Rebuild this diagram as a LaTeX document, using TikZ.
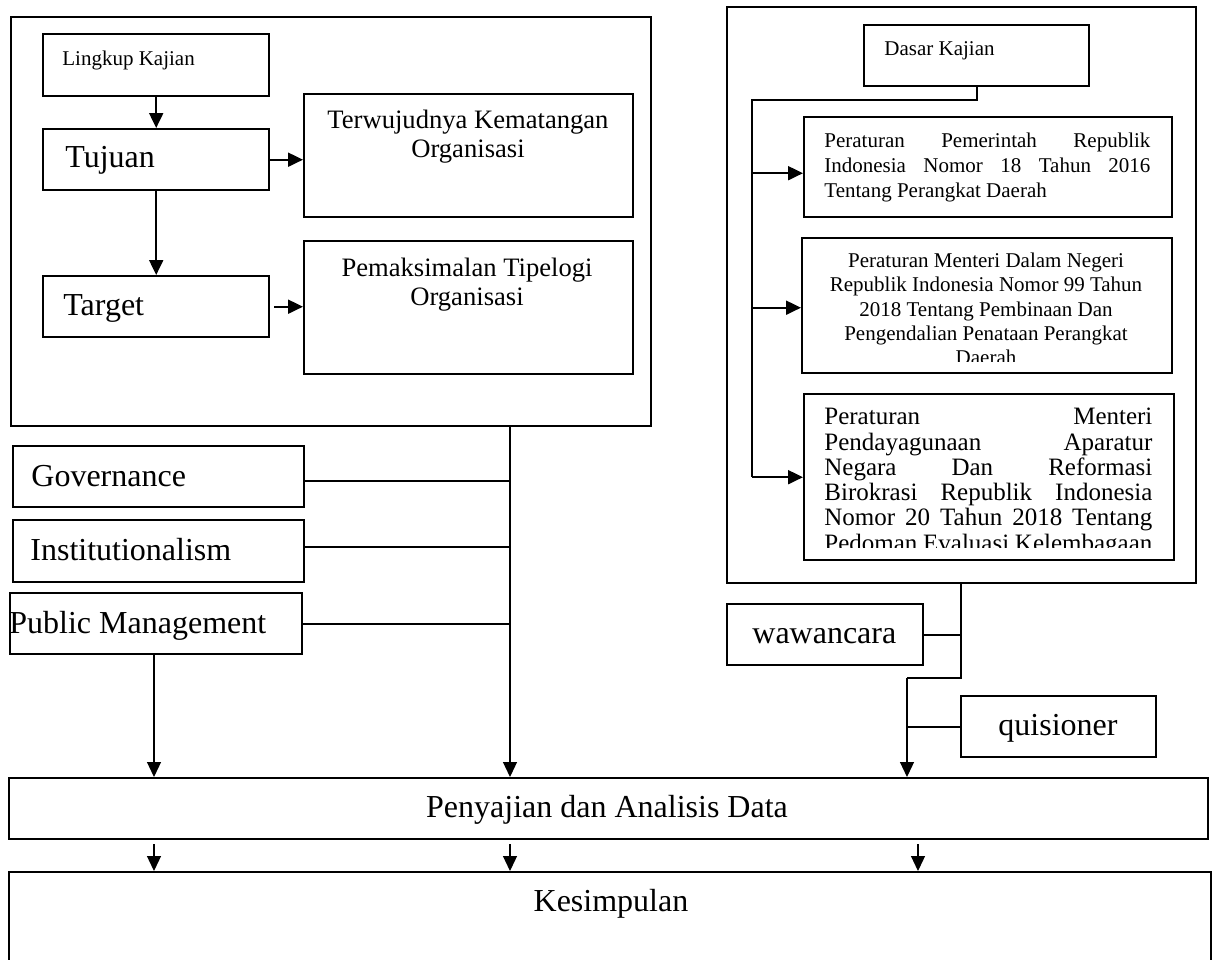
\documentclass[tikz,border=0pt]{standalone}
\usepackage{fontspec}
\setmainfont{Liberation Serif}
\usetikzlibrary{arrows.meta}
\tikzset{
  box/.style={draw, line width=1.2pt, rectangle, inner sep=0pt, anchor=north west},
  conn/.style={line width=1pt},
  thin/.style={line width=0.6pt},
  arr/.style={line width=1pt, -{Triangle[length=7.5pt,width=7pt]}},
  tarr/.style={line width=0.6pt, -{Triangle[length=7.5pt,width=7pt]}},
  big/.style={font=\fontsize{16}{19}\selectfont, inner sep=0pt},
  mid/.style={font=\fontsize{13.3}{16}\selectfont, inner sep=0pt},
  small/.style={font=\fontsize{10.5}{12.5}\selectfont, inner sep=0pt},
  boxc/.style={font=\fontsize{12.5}{15}\selectfont, inner sep=0pt},
}
\newcommand\mkbox[5]{\node[box,minimum width={(#4-#2)*0.5pt},minimum height={(#5-#3)*0.5pt}] (#1) at (#2,#3) {};}
\begin{document}
\begin{tikzpicture}[x=0.5pt,y=-0.5pt]
\fill[white] (0,0) rectangle (1214,959);
\useasboundingbox (0,0) rectangle (1214,959);
\clip (0,0) rectangle (1214,959);
% boxes
\mkbox{lbig}{10}{16}{650}{425}
\mkbox{ling}{42}{33}{268}{95}
\mkbox{tuj}{42}{128}{268}{189}
\mkbox{tgt}{42}{275}{268}{336}
\mkbox{terw}{303}{93}{632}{216}
\mkbox{pem}{303}{240}{632}{373}
\mkbox{rbig}{726}{6}{1195}{582}
\mkbox{dasar}{863}{24}{1088}{85}
\mkbox{bA}{803}{116}{1171}{216}
\mkbox{bB}{801}{237}{1171}{372}
\mkbox{bC}{803}{393}{1173}{559}
\mkbox{gov}{12}{445}{303}{506}
\mkbox{inst}{12}{519}{303}{581}
\mkbox{pm}{9}{592}{301}{653}
\mkbox{waw}{726}{603}{922}{664}
\mkbox{quis}{960}{695}{1155}{756}
\mkbox{pen}{8}{777}{1207}{838}
\mkbox{kes}{8}{871}{1210}{1000}
% texts left
\node[small, anchor=base west] (lingt) at (62,65) {Lingkup Kajian};
\node[big, anchor=base west] (tujt) at (65,167) {Tujuan};
\node[big, anchor=base west] (tgtt) at (63,315) {Target};
\node[mid, anchor=base] (terwa) at (468,128) {Terwujudnya Kematangan};
\node[mid, anchor=base] (terwb) at (468,157) {Organisasi};
\node[mid, anchor=base] (pema) at (467,276) {Pemaksimalan Tipelogi};
\node[mid, anchor=base] (pemb) at (467,305) {Organisasi};
\node[big, anchor=base west] (govt) at (31,486) {Governance};
\node[big, anchor=base west] (instt) at (30,560) {Institutionalism};
\node[big, anchor=base west] (pmt) at (9,633) {Public Management};
\node[big, anchor=base west] (wawt) at (752,643) {wawancara};
\node[big, anchor=base west] (quist) at (998,735) {quisioner};
\node[big, anchor=base] (pent) at (607,817) {Penyajian dan Analisis Data};
\node[big, anchor=base] (kest) at (611,911) {Kesimpulan};
% texts right
\node[small, anchor=base west] (dasart) at (884,55) {Dasar Kajian};
\foreach \t/\y/\m [count=\i] in {Peraturan Pemerintah Republik/147/s, Indonesia Nomor 18 Tahun 2016/172/s, Tentang Perangkat Daerah/197/l}
  \node[small, anchor=base west] (bAt\i) at (824,\y) {\makebox[163pt][\m]{\t}};
\begin{scope}
\clip (803,240) rectangle (1169,361);
\foreach \t/\y [count=\i] in {Peraturan Menteri Dalam Negeri/267, Republik Indonesia Nomor 99 Tahun/291, 2018 Tentang Pembinaan Dan/316, Pengendalian Penataan Perangkat/340, Daerah/364}
  \node[small, anchor=base] (bBt\i) at (986,\y) {\t};
\end{scope}
\begin{scope}
\clip (805,396) rectangle (1170,547);
\foreach \t/\y [count=\i] in {Peraturan Menteri/424, Pendayagunaan Aparatur/450, Negara Dan Reformasi/475, Birokrasi Republik Indonesia/500, Nomor 20 Tahun 2018 Tentang/525, Pedoman Evaluasi Kelembagaan/551}
  \node[boxc, anchor=base west] (bCt\i) at (824,\y) {\makebox[164pt][s]{\t}};
\end{scope}
% helper coordinates
\coordinate (c0) at (154,0);
\coordinate (c1) at (510,0);
\coordinate (c3) at (961,678);
\coordinate (c4) at (907,0);
\coordinate (c5) at (752,100);
\coordinate (c6) at (918,0);
% left connectors
\draw[arr] (ling.south) -- (tuj.north);
\draw[arr] (tuj.south) -- (tgt.north);
\draw[arr] (tuj.east) -- (tuj.east -| terw.west);
\draw[arr] ([xshift=2pt]tgt.east) -- (tgt.east -| pem.west);
\draw[tarr] (lbig.south -| c1) -- (pen.north -| c1);
\draw[conn] ([yshift=-2pt]gov.east) -- ([yshift=-2pt]gov.east -| c1);
\draw[conn] ([yshift=2pt]inst.east) -- ([yshift=2pt]inst.east -| c1);
\draw[conn] (pm.east) -- (pm.east -| c1);
\draw[tarr] (pm.south -| c0) -- (pen.north -| c0);
% right connectors
\draw[conn] (dasar.south) |- (c5) -- (c5 |- bC.west);
\draw[arr] ([yshift=-3pt]c5 |- bA.west) -- ([yshift=-3pt]bA.west);
\draw[arr] ([yshift=-1pt]c5 |- bB.west) -- ([yshift=-1pt]bB.west);
\draw[arr] (c5 |- bC.west) -- (bC.west);
\draw[conn] (rbig.south -| c3) -- (c3) -- (c3 -| c4);
\draw[tarr] (c3 -| c4) -- (pen.north -| c4);
\draw[conn] (waw.east) -- (waw.east -| c3);
\draw[conn] (quis.west) -- (quis.west -| c4);
% bottom arrows
\draw[tarr] ([yshift=-2pt]pen.south -| c0) -- (kes.north -| c0);
\draw[tarr] ([yshift=-2pt]pen.south -| c1) -- (kes.north -| c1);
\draw[tarr] ([yshift=-2pt]pen.south -| c6) -- (kes.north -| c6);
\end{tikzpicture}
\end{document}
